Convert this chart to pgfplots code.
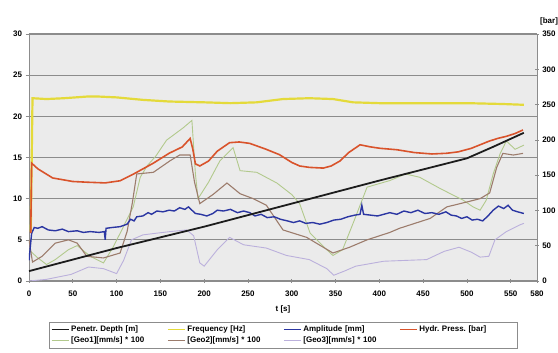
\documentclass[border=0pt]{standalone}
\usepackage{pgfplots}
\pgfplotsset{compat=1.18}
\usepackage{fontspec}
\setmainfont{Liberation Sans}
\frenchspacing

\definecolor{depthc}{HTML}{1C1C1C}
\definecolor{freqc}{HTML}{E4DA3A}
\definecolor{amplc}{HTML}{2B36A2}
\definecolor{pressc}{HTML}{D9532B}
\definecolor{geoa}{HTML}{B2C98C}
\definecolor{geob}{HTML}{9C7C6C}
\definecolor{geoc}{HTML}{BBB0DC}
\definecolor{gridc}{HTML}{8C8C8C}
\definecolor{plotbg}{HTML}{EBEBEB}

\pgfplotsset{
  base/.style={
    at={(29bp,72bp)}, anchor=south west, scale only axis,
    width=508bp, height=247bp, xmin=0, xmax=580,
    tick label style={font=\fontsize{8}{9}\selectfont\bfseries},
    /pgf/number format/assume math mode=true,
    axis line style={gridc, line width=0.6pt},
    major tick style={gridc, line width=0.6pt},
    major tick length=3.5bp,
  }
}

\begin{document}
\begin{tikzpicture}
\path[use as bounding box] (0,0) rectangle (558bp,353bp);

% left axis: depth, frequency, amplitude and the three geophones
\begin{axis}[base,
  ymin=0, ymax=30, ytick={0,5,...,30},
  xtick={0,50,...,550,580},
  xtick pos=left, ytick pos=left,
  xtick align=center, ytick align=outside,
  xticklabel style={yshift=-5bp},
  axis background/.style={fill=plotbg},
  ymajorgrids, grid style={gridc, line width=1.1pt},
  xlabel={t [s]}, xlabel style={font=\fontsize{8}{9}\selectfont\bfseries, yshift=-2bp},
]
% Geo3
\addplot[geoc, line width=0.9pt, forget plot] coordinates {
(0,0.0)(20,0.2)(48,0.8)(68,1.7)(85,1.5)(100,0.9)(108,2.5)(117,5.0)(130,5.6)
(145,5.8)(161,6.0)(180,6.2)(188,5.5)(195,2.2)(200,1.8)(215,3.8)(229,5.3)
(245,4.4)(271,4.0)(294,3.1)(320,2.6)(340,1.5)(348,0.7)(360,1.2)(373,1.8)
(405,2.4)(454,2.6)(474,3.6)(491,4.1)(505,3.5)(515,2.9)(525,3.0)(532,5.0)
(545,6.0)(560,6.8)(565,7.0)};
% Geo1
\addplot[geoa, line width=0.9pt, forget plot] coordinates {
(0,3.8)(9,2.9)(20,2.0)(30,2.6)(45,3.8)(55,4.3)(70,3.0)(85,2.2)(96,4.1)
(105,6.0)(119,9.0)(127,12.6)(135,14.0)(145,15.2)(157,17.1)(176,18.6)
(186,19.5)(190,13.0)(193,10.0)(205,12.0)(218,14.6)(233,16.2)(241,13.4)
(260,13.2)(283,11.9)(300,10.5)(309,9.4)(321,5.8)(340,3.8)(347,3.1)
(358,3.8)(370,7.0)(386,11.4)(412,12.2)(430,13.0)(446,12.6)(470,11.2)
(496,9.8)(507,9.0)(515,8.6)(522,9.8)(530,13.0)(538,15.5)(545,17.0)
(555,16.0)(565,16.5)};
% Geo2
\addplot[geob, line width=1.1pt, forget plot] coordinates {
(0,5.0)(4,2.3)(15,3.0)(30,4.6)(45,5.0)(55,4.6)(66,3.0)(85,2.8)(104,3.4)
(112,6.0)(118,9.5)(123,13.0)(142,13.2)(161,14.6)(172,15.3)(184,15.3)
(189,12.0)(195,9.4)(210,10.5)(226,11.9)(241,10.6)(256,10.0)(271,9.2)
(290,6.2)(317,5.3)(347,3.4)(366,4.1)(386,5.0)(412,5.9)(423,6.4)(458,7.6)
(477,9.0)(500,9.6)(515,10.0)(526,10.7)(534,13.8)(541,15.5)(553,15.3)
(564,15.5)};
% Amplitude
\addplot[amplc, line width=1.4pt, forget plot] coordinates {
(0,2.5)(3,5.8)(6,6.5)(10,6.4)(15,6.6)(22,6.2)(30,6.1)(38,6.3)(45,6.0)
(55,6.1)(62,5.9)(70,6.0)(80,5.9)(86,6.0)(87,5.0)(88,6.4)(95,6.5)(104,6.6)
(112,6.9)(116,7.5)(120,7.3)(123,7.8)(130,7.9)(136,8.3)(140,8.1)(146,8.5)
(153,8.4)(160,8.6)(166,8.5)(172,8.9)(178,8.7)(182,9.0)(186,8.6)(190,8.2)
(196,8.1)(203,7.9)(210,8.2)(215,8.6)(222,8.5)(230,8.7)(238,8.3)(245,8.5)
(252,8.3)(258,7.9)(265,8.1)(272,7.7)(280,7.8)(287,7.5)(295,7.3)(302,7.1)
(309,7.3)(316,7.0)(324,7.1)(332,6.9)(340,7.1)(348,7.4)(356,7.5)(364,7.8)
(372,8.0)(378,8.1)(380,9.2)(382,8.1)(390,8.0)(398,7.9)(405,8.1)(412,8.3)
(420,8.1)(428,8.5)(436,8.3)(444,8.6)(452,8.2)(460,8.3)(468,8.1)(476,8.4)
(482,8.0)(488,7.9)(494,7.6)(500,7.8)(506,7.4)(512,7.5)(518,7.3)(524,7.9)
(530,8.6)(536,9.1)(542,8.8)(547,9.2)(552,8.6)(558,8.4)(565,8.2)};
% Frequency
\addplot[freqc, line width=2.2pt, forget plot] coordinates {
(2,6.0)(3,14.0)(4,22.2)(20,22.1)(40,22.2)(66,22.4)(80,22.4)(100,22.3)
(130,22.0)(160,21.8)(200,21.7)(230,21.6)(260,21.7)(290,22.1)(320,22.2)
(347,22.1)(370,21.7)(400,21.6)(450,21.6)(500,21.6)(540,21.5)(565,21.4)};
% Penetration depth
\addplot[depthc, line width=1.8pt, forget plot] coordinates {
(0,1.2)(100,4.0)(200,6.6)(300,9.4)(400,12.2)(500,14.9)(530,16.3)(565,18.0)};
\end{axis}

% right axis: hydraulic pressure in bar
\begin{axis}[base,
  ymin=0, ymax=350, ytick={0,50,...,350},
  axis x line=none, axis y line*=right,
  ytick align=center,
  legend columns=4,
  legend cell align=left,
  legend style={at={(0.5,-0.166)}, anchor=north, draw=gridc, fill=white,
    font=\fontsize{8}{9}\selectfont\bfseries, inner sep=2bp,
    nodes={text width=94bp, align=left, inner sep=1.8bp},
    /tikz/every even column/.append style={column sep=0bp}},
]
\addplot[pressc, line width=1.6pt, forget plot] coordinates {
(2,68)(3,167)(10,159)(27,146)(50,141)(66,140)(87,139)(104,142)(120,152)
(142,167)(160,181)(175,190)(184,202)(187,187)(190,166)(195,163)(205,170)
(215,184)(229,196)(240,197)(252,195)(270,187)(286,179)(300,168)(309,163)
(320,161)(336,160)(345,163)(355,170)(365,182)(378,193)(390,190)(401,188)
(420,186)(440,182)(460,180)(477,181)(490,183)(505,188)(515,193)(525,198)
(535,202)(545,205)(555,209)(564,214)};
\addlegendimage{depthc, line width=1.6pt}
\addlegendentry{Penetr. Depth [m]}
\addlegendimage{freqc, line width=1.6pt}
\addlegendentry{Frequency [Hz]}
\addlegendimage{amplc, line width=1.4pt}
\addlegendentry{Amplitude [mm]}
\addlegendimage{pressc, line width=1.4pt}
\addlegendentry{Hydr. Press. [bar]}
\addlegendimage{geoa, line width=1pt}
\addlegendentry{[Geo1][mm/s] * 100}
\addlegendimage{geob, line width=1pt}
\addlegendentry{[Geo2][mm/s] * 100}
\addlegendimage{geoc, line width=1pt}
\addlegendentry{[Geo3][mm/s] * 100}
\end{axis}

\node[font=\fontsize{8}{9}\selectfont\bfseries, anchor=base west, inner sep=0pt]
  at (540bp,329bp) {[bar]};
\end{tikzpicture}
\end{document}
